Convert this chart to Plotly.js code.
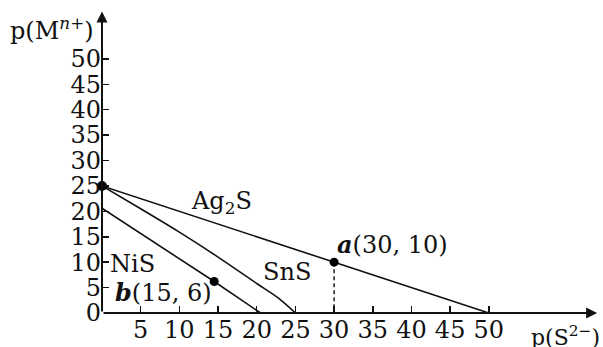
<!DOCTYPE html>
<html>
<head>
<meta charset="utf-8">
<script src="https://cdn.plot.ly/plotly-3.0.1.min.js"></script>
<style>html,body{margin:0;padding:0;background:#fff;}#chart{width:603px;height:347px;}</style>
</head>
<body>
<div id="chart"></div>
<script>
// Data
const ag2sX = [0, 30, 50];
const ag2sY = [25, 10, 0];
const snsX = [0, 5, 10, 15, 20, 23, 25];
const snsY = [25, 20.5, 15.9, 11.0, 5.8, 2.7, 0];
const nisX = [0, 14.5, 20.5];
const nisY = [20.6, 6.2, 0];
const pointA = {x: 30, y: 10, label: '<b><i>a</i></b>(30, 10)'};
const pointB = {x: 14.5, y: 6.2, label: '<b><i>b</i></b>(15, 6)'};
const startPoint = {x: 0, y: 25};
const xTicks = [5, 10, 15, 20, 25, 30, 35, 40, 45, 50];
const yTicks = [0, 5, 10, 15, 20, 25, 30, 35, 40, 45, 50];

const FONT = 'DejaVu Serif';
const FS = 24;
const lineStyle = {color: '#111', width: 1.6};

const traces = [
  {x: ag2sX, y: ag2sY, mode: 'lines', line: lineStyle, hoverinfo: 'skip'},
  {x: snsX, y: snsY, mode: 'lines', line: Object.assign({shape: 'spline', smoothing: 1}, lineStyle), hoverinfo: 'skip'},
  {x: nisX, y: nisY, mode: 'lines', line: lineStyle, hoverinfo: 'skip'},
  {x: [pointA.x, pointA.x], y: [pointA.y, 0], mode: 'lines', line: {color: '#111', width: 1.4, dash: '4px,3px'}, hoverinfo: 'skip'},
  {x: [startPoint.x], y: [startPoint.y], mode: 'markers', marker: {color: '#000', size: 10}, cliponaxis: false, hoverinfo: 'skip'},
  {x: [pointA.x, pointB.x], y: [pointA.y, pointB.y], mode: 'markers', marker: {color: '#000', size: 9}, cliponaxis: false, hoverinfo: 'skip'}
];

const txt = (x, y, text, extra) => Object.assign({x: x, y: y, xref: 'x', yref: 'y', text: text, showarrow: false,
  xanchor: 'center', yanchor: 'middle',
  font: {family: FONT, size: FS, color: '#111'}}, extra || {});

const annotations = [
  // axis arrows
  {x: 64, y: 0, ax: 0, ay: 0, xref: 'x', yref: 'y', axref: 'x', ayref: 'y', text: '', showarrow: true,
   arrowhead: 2, arrowsize: 1.1, arrowwidth: 2, arrowcolor: '#111', standoff: 0, startstandoff: 0},
  {x: 0, y: 59.3, ax: 0, ay: 0, xref: 'x', yref: 'y', axref: 'x', ayref: 'y', text: '', showarrow: true,
   arrowhead: 2, arrowsize: 1.1, arrowwidth: 2, arrowcolor: '#111', standoff: 0, startstandoff: 0},
  txt(15.5, 21.7, 'Ag<sub>2</sub>S'),
  txt(3.9, 9.6, 'NiS'),
  txt(23.9, 8.1, 'SnS'),
  txt(7.9, 4.1, pointB.label),
  txt(37.5, 13.4, pointA.label),
  txt(-0.1, 0.931, 'p(M<sup><i>n</i>+</sup>)', {xref: 'paper', yref: 'paper'}),
  txt(1.003, -0.022, 'p(S<sup>2−</sup>)', {xref: 'paper', yref: 'paper', xanchor: 'right', yanchor: 'top',
    font: {family: FONT, size: 22, color: '#111'}})
];

const layout = {
  width: 603, height: 347,
  margin: {l: 102, r: 2, t: 8, b: 34, pad: 0},
  paper_bgcolor: '#fff', plot_bgcolor: '#fff',
  showlegend: false,
  font: {family: FONT, size: FS, color: '#111'},
  xaxis: {range: [0, 64.5], tickmode: 'array', tickvals: xTicks, ticktext: xTicks.map(String),
    ticks: 'inside', ticklen: 7, tickwidth: 1.5, tickcolor: '#111', showgrid: false, zeroline: false,
    showline: false, tickfont: {family: FONT, size: FS, color: '#111'}, fixedrange: true},
  yaxis: {range: [0, 60], tickmode: 'array', tickvals: yTicks, ticktext: yTicks.map(String),
    ticks: 'inside', ticklen: 7, tickwidth: 1.5, tickcolor: '#111', showgrid: false, zeroline: false,
    showline: false, tickfont: {family: FONT, size: FS, color: '#111'}, fixedrange: true},
  annotations: annotations
};

Plotly.newPlot('chart', traces, layout, {staticPlot: true, displayModeBar: false});
</script>
</body>
</html>
